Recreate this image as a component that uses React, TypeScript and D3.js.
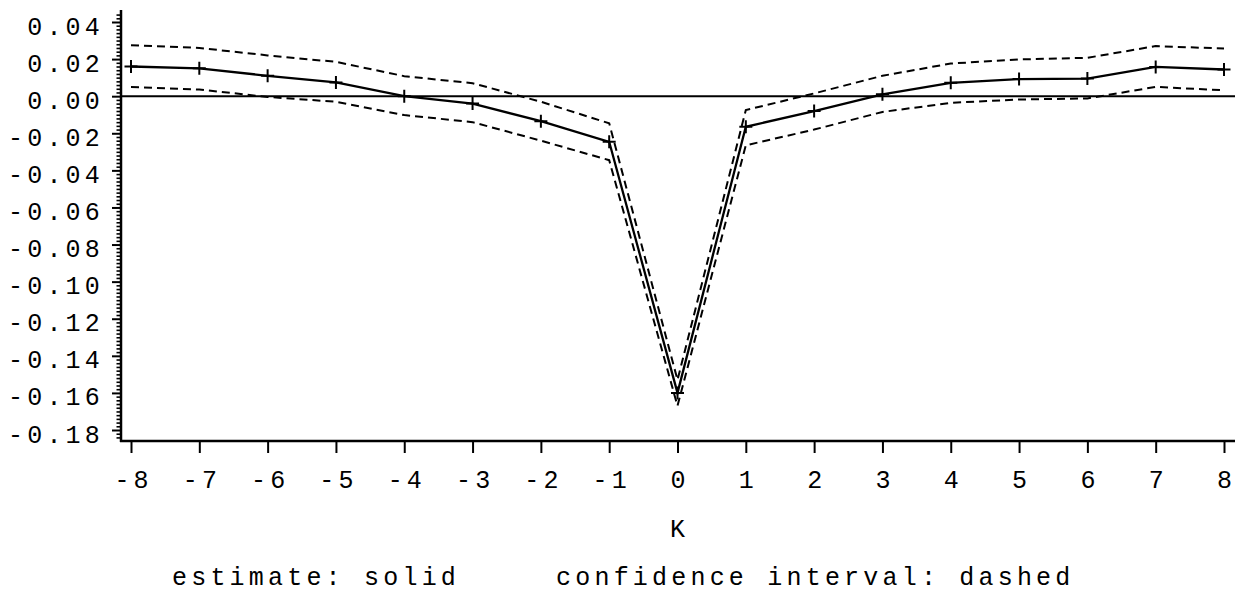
import { useEffect, useRef } from "react";
import * as d3 from "d3";

// lag K, estimate and its confidence band
const kValues = [-8, -7, -6, -5, -4, -3, -2, -1, 0, 1, 2, 3, 4, 5, 6, 7, 8];
const estimate = [0.016, 0.015, 0.011, 0.0074, 0.0, -0.004, -0.0135, -0.0246, -0.16, -0.0165, -0.008, 0.001, 0.0072, 0.0092, 0.0095, 0.0158, 0.0144];
const upperCI = [0.0275, 0.026, 0.022, 0.0185, 0.0108, 0.007, -0.003, -0.0146, -0.153, -0.0075, 0.0015, 0.011, 0.0176, 0.0198, 0.0207, 0.027, 0.0257];
const lowerCI = [0.005, 0.0036, -0.0004, -0.003, -0.0102, -0.014, -0.024, -0.0345, -0.167, -0.0265, -0.018, -0.0085, -0.0036, -0.0018, -0.0012, 0.005, 0.0032];
const yMajorTicks = [0.04, 0.02, 0, -0.02, -0.04, -0.06, -0.08, -0.1, -0.12, -0.14, -0.16, -0.18];
const xLabel = "K";
const legendText = "estimate: solid     confidence interval: dashed";

const FONT = "'Liberation Mono', monospace";
const FS = 25;
const LS = 4.2;

export default function App() {
    const ref = useRef<SVGSVGElement>(null);

    useEffect(() => {
        if (!ref.current) return;
        const svg = d3.select(ref.current);
        svg.selectAll("*").remove();

        const x = d3.scaleLinear().domain([-8, 8]).range([131, 1224]);
        const y = d3.scaleLinear().domain([-0.18, 0.04]).range([430, 22]);
        const axisY = 441;
        const axisX = 121;

        // minor y ticks every 0.002
        const minorTicks = d3.range(-0.186, 0.0461, 0.002).map((v) => +v.toFixed(3))
            .filter((v) => !yMajorTicks.some((m) => Math.abs(m - v) < 1e-6) && y(v) > 11 && y(v) < axisY - 1);

        const gMinor = svg.append("g").attr("transform", `translate(${axisX},0)`)
            .call(d3.axisLeft(y).tickValues(minorTicks).tickSize(4.5).tickSizeOuter(0).tickFormat(() => ""));
        gMinor.select(".domain").remove();

        const gY = svg.append("g").attr("transform", `translate(${axisX},0)`)
            .call(d3.axisLeft(y).tickValues(yMajorTicks).tickSize(9).tickSizeOuter(0).tickPadding(8)
                .tickFormat((d) => (+d).toFixed(2)));
        gY.select(".domain").remove();
        gY.selectAll("text").attr("dy", 12).attr("x", -17);

        const gX = svg.append("g").attr("transform", `translate(0,${axisY})`)
            .call(d3.axisBottom(x).tickValues(kValues).tickSize(12).tickSizeOuter(0)
                .tickFormat((d) => String(d)));
        gX.select(".domain").remove();
        gX.selectAll("text").attr("y", 47).attr("dy", 0).attr("dx", LS / 2);

        svg.selectAll(".tick line").attr("stroke", "#000").attr("stroke-width", 2);
        gMinor.selectAll(".tick line").attr("stroke-width", 1.6);
        svg.selectAll(".tick text")
            .attr("fill", "#000")
            .attr("font-family", FONT)
            .attr("font-size", FS)
            .attr("letter-spacing", LS);

        // axis lines
        svg.append("line").attr("x1", axisX).attr("x2", axisX).attr("y1", 10).attr("y2", axisY + 1)
            .attr("stroke", "#000").attr("stroke-width", 2.5);
        svg.append("line").attr("x1", axisX - 1).attr("x2", 1235).attr("y1", axisY).attr("y2", axisY)
            .attr("stroke", "#000").attr("stroke-width", 2.5);

        // zero reference line
        svg.append("line").attr("x1", axisX).attr("x2", 1235).attr("y1", y(0)).attr("y2", y(0))
            .attr("stroke", "#000").attr("stroke-width", 2);

        const line = d3.line<number>()
            .x((_, i) => x(kValues[i]))
            .y((d) => y(d));

        [upperCI, lowerCI].forEach((s) => {
            svg.append("path").datum(s)
                .attr("d", line)
                .attr("fill", "none")
                .attr("stroke", "#000")
                .attr("stroke-width", 2)
                .attr("stroke-dasharray", "8,5");
        });

        svg.append("path").datum(estimate)
            .attr("d", line)
            .attr("fill", "none")
            .attr("stroke", "#000")
            .attr("stroke-width", 2.3);

        // plus markers
        const half = 6.5;
        svg.append("g").selectAll("path")
            .data(estimate)
            .join("path")
            .attr("d", (d, i) => {
                const cx = x(kValues[i]);
                const cy = y(d);
                return `M${cx - half},${cy}H${cx + half}M${cx},${cy - half}V${cy + half}`;
            })
            .attr("stroke", "#000")
            .attr("stroke-width", 2);

        svg.append("text")
            .attr("x", x(0) + LS / 2).attr("y", 537)
            .attr("text-anchor", "middle")
            .attr("font-family", FONT).attr("font-size", FS).attr("letter-spacing", LS)
            .text(xLabel);

        svg.append("text")
            .attr("x", 172).attr("y", 585)
            .attr("font-family", FONT).attr("font-size", FS).attr("letter-spacing", LS)
            .style("white-space", "pre")
            .text(legendText);
    }, []);

    return (
        <svg ref={ref} width={1241} height={594}
            style={{ position: "absolute", left: 0, top: 0, background: "#fff" }} />
    );
}
